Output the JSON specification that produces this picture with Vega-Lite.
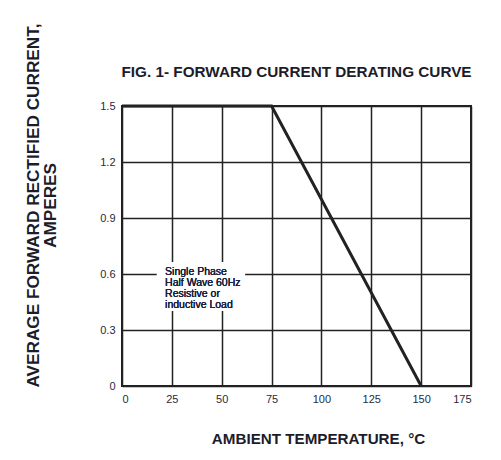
{
  "$schema": "https://vega.github.io/schema/vega-lite/v6.json",
  "autosize": "none",
  "padding": {"left": 122, "top": 106, "right": 30, "bottom": 74},
  "width": 349,
  "height": 280,
  "background": "white",
  "title": {
    "text": "FIG. 1- FORWARD CURRENT DERATING CURVE",
    "font": "Liberation Sans",
    "fontSize": 15.3,
    "fontWeight": "bold",
    "color": "#1c1c2a",
    "anchor": "middle",
    "offset": -57
  },
  "config": {
    "view": {"stroke": "#222", "strokeWidth": 2},
    "font": "Liberation Sans"
  },
  "data": {
    "values": [
      {"temp": 0, "current": 1.5},
      {"temp": 75, "current": 1.5},
      {"temp": 150, "current": 0}
    ]
  },
  "layer": [
    {
      "mark": {"type": "line", "color": "#222", "strokeWidth": 3},
      "encoding": {
        "x": {
          "field": "temp",
          "type": "quantitative",
          "scale": {"domain": [0, 175], "nice": false},
          "axis": {
            "values": [0, 25, 50, 75, 100, 125, 150, 175],
            "domain": false,
            "ticks": false,
            "labelPadding": 7,
            "labelFontSize": 11,
            "labelColor": "#2a2a3a",
            "labelFont": "Liberation Sans",
            "grid": true,
            "gridColor": "#222",
            "gridOpacity": 1,
            "gridWidth": 1.5,
            "title": "AMBIENT TEMPERATURE, °C",
            "titleFont": "Liberation Sans",
            "titleFontSize": 15.2,
            "titleFontWeight": "bold",
            "titleColor": "#1c1c2a",
            "titleX": 196,
            "titleY": 57,
            "titleAlign": "center",
            "titleBaseline": "alphabetic"
          }
        },
        "y": {
          "field": "current",
          "type": "quantitative",
          "scale": {"domain": [0, 1.5], "nice": false},
          "axis": {
            "values": [0, 0.3, 0.6, 0.9, 1.2, 1.5],
            "format": "~g",
            "domain": false,
            "ticks": false,
            "labelPadding": 7,
            "labelFontSize": 11,
            "labelColor": "#2a2a3a",
            "labelFont": "Liberation Sans",
            "grid": true,
            "gridColor": "#222",
            "gridOpacity": 1,
            "gridWidth": 1.5,
            "title": ["AVERAGE FORWARD RECTIFIED CURRENT,", "AMPERES"],
            "titleFont": "Liberation Sans",
            "titleFontSize": 17.2,
            "titleFontWeight": "bold",
            "titleColor": "#1c1c2a",
            "titleAngle": -90,
            "titleX": -84,
            "titleY": 99,
            "titleAlign": "center",
            "titleBaseline": "alphabetic",
            "titleLineHeight": 17
          }
        }
      }
    },
    {
      "mark": {"type": "rect", "color": "white"},
      "encoding": {
        "x": {"datum": 17.5, "type": "quantitative"},
        "x2": {"datum": 61.7},
        "y": {"datum": 0.402, "type": "quantitative"},
        "y2": {"datum": 0.664}
      }
    },
    {
      "mark": {
        "type": "text",
        "text": ["Single Phase", "Half Wave 60Hz", "Resistive or", "inductive Load"],
        "align": "left",
        "baseline": "top",
        "fontSize": 10.5,
        "lineHeight": 11,
        "font": "Liberation Sans",
        "color": "#1a2340"
      },
      "encoding": {
        "x": {"datum": 21.6, "type": "quantitative"},
        "y": {"datum": 0.64, "type": "quantitative"}
      }
    }
  ]
}
